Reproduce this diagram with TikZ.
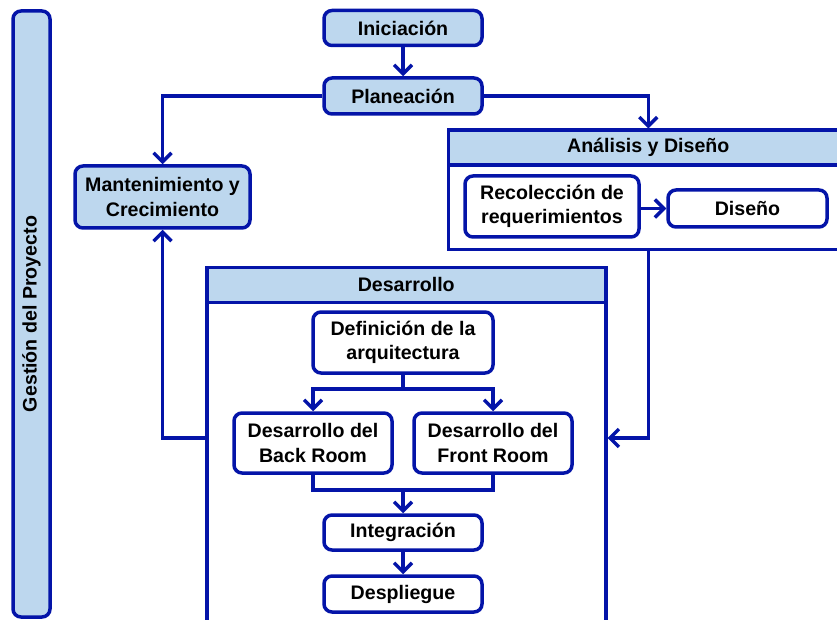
\documentclass[tikz,border=0pt]{standalone}
\usepackage{fontspec}
\setmainfont{Liberation Sans}
\usetikzlibrary{arrows.meta,calc}
\definecolor{edgeblue}{RGB}{4,20,168}
\definecolor{fillblue}{RGB}{189,215,238}
\tikzset{
  txt/.style={font=\fontsize{19.6}{24.5}\selectfont\bfseries},
  box/.style={draw=edgeblue, line width=3.5pt, rounded corners=8pt, fill=fillblue,
              align=center, inner sep=0pt, txt},
  wbox/.style={box, fill=white},
  cont/.style={draw=edgeblue, line width=3.5pt, fill=white, inner sep=0pt, anchor=north west},
  head/.style={draw=edgeblue, line width=3.5pt, fill=fillblue, inner sep=0pt, anchor=north west, txt},
  conn/.style={draw=edgeblue, line width=3.5pt},
  arr/.style={conn, -{Straight Barb[length=9pt,width=18pt]}},
}
\begin{document}
\begin{tikzpicture}[x=1pt,y=-1pt]
\useasboundingbox (0,0) rectangle (837,620);
\clip (0,0) rectangle (837,620);

% left bar
\node[box, rotate=90, minimum width=606pt, minimum height=37pt] (gp) at (31.5,314) {Gestión del Proyecto};

% containers
\node[cont, minimum width=400pt, minimum height=119pt] (ana) at (446.5,128.5) {};
\node[head, minimum width=400pt, minimum height=35pt] (anahead) at (446.5,128.5) {Análisis y Diseño};
\node[cont, minimum width=399pt, minimum height=420pt] (des) at (205,265.5) {};
\node[head, minimum width=399pt, minimum height=35pt] (deshead) at (205,265.5) {Desarrollo};

% top nodes
\node[box, minimum width=158pt, minimum height=35pt] (ini) at (403,28) {Iniciación};
\node[box, minimum width=158pt, minimum height=36pt] (plan) at (403,96) {Planeación};
\node[box, minimum width=175pt, minimum height=62pt] (mant) at (162.5,197) {Mantenimiento y\\Crecimiento};

% analysis inner
\node[wbox, minimum width=174pt, minimum height=61pt] (recol) at (552,206.5) {Recolección de\\requerimientos};
\node[wbox, minimum width=159pt, minimum height=37pt] (dis) at (747.5,208.5) {Diseño};

% development inner
\node[wbox, minimum width=180pt, minimum height=61pt] (def) at (403,342.5) {Definición de la\\arquitectura};
\node[wbox, minimum width=158pt, minimum height=60pt] (back) at (313,443) {Desarrollo del\\Back Room};
\node[wbox, minimum width=158pt, minimum height=60pt] (front) at (493,443) {Desarrollo del\\Front Room};
\node[wbox, minimum width=158pt, minimum height=35pt] (integ) at (403,532.5) {Integración};
\node[wbox, minimum width=158pt, minimum height=36pt] (desp) at (403,594) {Despliegue};

% helper coordinates
\coordinate (yrow) at (0,438);
\coordinate (sp) at (403,389);
\coordinate (jn) at (403,490);

% connectors
\draw[arr] (ini) -- (plan);
\draw[arr] (plan.west) -| (mant.north);
\draw[arr] (plan.east) -| (ana.north);
\draw[arr] (recol.east |- dis.west) -- (dis.west);
\draw[arr] (ana.south) |- (des.east |- yrow);
\draw[arr] (des.west |- yrow) -| (mant.south);
\draw[conn] (def.south) -- (sp);
\draw[arr] (sp) -| (back.north);
\draw[arr] (sp) -| (front.north);
\draw[conn] (back.south) |- (jn) -| (front.south);
\draw[arr] (jn) -- (integ.north);
\draw[arr] (integ) -- (desp);
\end{tikzpicture}
\end{document}
